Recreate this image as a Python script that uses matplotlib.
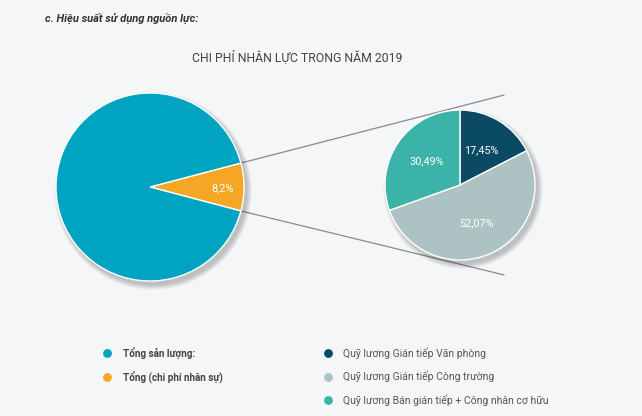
import numpy as np
import matplotlib
matplotlib.use("Agg")
import matplotlib.pyplot as plt
from matplotlib.patches import Circle

plt.rcParams['font.family'] = ['Roboto', 'DejaVu Sans']

# data
main_labels = ['Tổng (chi phí nhân sự)', 'Tổng sản lượng:']
main_values = [8.2, 91.8]
main_colors = ['#f5a623', '#00a3c0']

sub_labels = ['Quỹ lương Gián tiếp Văn phòng',
              'Quỹ lương Gián tiếp Công trường',
              'Quỹ lương Bán gián tiếp + Công nhân cơ hữu']
sub_values = [17.45, 52.07, 30.49]
sub_colors = ['#0b4a63', '#adc3c3', '#3cb3a8']

header = 'c. Hiệu suất sử dụng nguồn lực:'
title = 'CHI PHÍ NHÂN LỰC TRONG NĂM 2019'

W, H = 642, 416
fig = plt.figure(figsize=(W / 100, H / 100), dpi=100)
fig.patch.set_facecolor('#f5f6f7')
ax = fig.add_axes([0, 0, 1, 1])
ax.set_xlim(0, W)
ax.set_ylim(0, H)
ax.set_aspect('equal')
ax.axis('off')

def fmt(v):
    s = ('%.2f' % v).rstrip('0').rstrip('.') if v < 10 else '%.2f' % v
    return s.replace('.', ',') + '%'

def soft_shadow(c, r):
    for i in range(6):
        ax.add_patch(Circle((c[0] + 3, c[1] - 4), r + 0.2 + i * 0.9,
                            color='#000000', alpha=0.04, lw=0, zorder=1))

# big pie
c1, r1 = (150, 229), 94
half = main_values[0] / sum(main_values) * 180
soft_shadow(c1, r1)
ax.pie(main_values, colors=main_colors, center=c1, radius=r1,
       startangle=-half, counterclock=True, frame=True,
       wedgeprops=dict(edgecolor='white', linewidth=1, zorder=2))
ax.text(c1[0] + 0.77 * r1, c1[1] - 1, fmt(main_values[0]), color='white',
        fontsize=7.8, ha='center', va='center', zorder=5)

# small pie
c2, r2 = (460, 231), 75
soft_shadow(c2, r2)
ax.pie(sub_values, colors=sub_colors, center=c2, radius=r2,
       startangle=90, counterclock=False, frame=True,
       wedgeprops=dict(edgecolor='white', linewidth=1, zorder=2))
ang = 90
for v in sub_values:
    mid = np.deg2rad(ang - v / 100 * 180)
    ax.text(c2[0] + 0.55 * r2 * np.cos(mid), c2[1] + 0.55 * r2 * np.sin(mid),
            fmt(v), color='white', fontsize=7.8, ha='center', va='center', zorder=5)
    ang -= v / 100 * 360

# connector lines
for s, e in [(half, 64), (-half, -64)]:
    x0 = c1[0] + r1 * np.cos(np.deg2rad(s))
    y0 = c1[1] + r1 * np.sin(np.deg2rad(s))
    x1 = c2[0] + 100 * np.cos(np.deg2rad(e))
    y1 = c2[1] + 100 * np.sin(np.deg2rad(e))
    ax.plot([x0, x1], [y0, y1], color='#8a8a8a', lw=0.9, zorder=0.5)

ax.set_xlim(0, W)
ax.set_ylim(0, H)

# texts
ax.text(45, H - 18, header, fontsize=8, fontweight='bold', style='italic',
        color='#333333', ha='left', va='center')
ax.text(297, H - 57, title, fontsize=8.8, color='#444444', ha='center', va='center')

# legends
for i, lab in enumerate(main_labels[::-1]):
    y = H - 353 - i * 23.5
    ax.scatter([107], [y], s=40, color=main_colors[::-1][i], lw=0, zorder=3)
    ax.text(123, y, lab, fontsize=7.1, fontweight='bold', color='#444444',
            ha='left', va='center')
for i, lab in enumerate(sub_labels):
    y = H - 353 - i * 23.5
    ax.scatter([328], [y], s=40, color=sub_colors[i], lw=0, zorder=3)
    ax.text(343, y, lab, fontsize=7.5, color='#555555', ha='left', va='center')

fig.savefig('out.png', dpi=100, facecolor=fig.get_facecolor())
